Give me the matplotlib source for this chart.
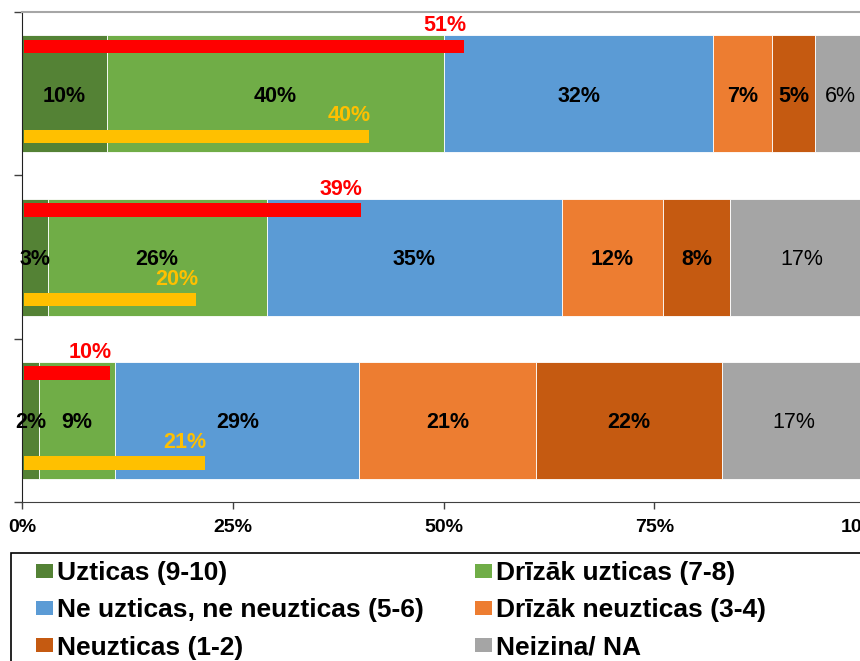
import matplotlib
matplotlib.use("Agg")
import matplotlib.pyplot as plt
from matplotlib.patches import Rectangle, Patch
import numpy as np

plt.rcParams['font.family'] = ['Liberation Sans', 'DejaVu Sans']

# data (three survey rows, top to bottom)
categories = ['Uzticas (9-10)', 'Drīzāk uzticas (7-8)', 'Ne uzticas, ne neuzticas (5-6)',
              'Drīzāk neuzticas (3-4)', 'Neuzticas (1-2)', 'Neizina/ NA']
uzticas = [10, 3, 2]
drizak_uzticas = [40, 26, 9]
neitrali = [32, 35, 29]
drizak_neuzticas = [7, 12, 21]
neuzticas = [5, 8, 22]
neizina = [6, 17, 17]
red_values = [51, 39, 10]
yellow_values = [40, 20, 21]
x_ticks = [0, 25, 50, 75, 100]
x_ticklabels = ['0%', '25%', '50%', '75%', '100%']

colors = ['#548235', '#70AD47', '#5B9BD5', '#ED7D31', '#C55A11', '#A5A5A5']
series = [uzticas, drizak_uzticas, neitrali, drizak_neuzticas, neuzticas, neizina]

fig = plt.figure(figsize=(8.6, 6.61), dpi=100)
ax = fig.add_axes([0.026, 0.2405, 0.980, 0.741])

y = np.arange(len(uzticas))
left = np.zeros(len(y))
for i, (vals, col) in enumerate(zip(series, colors)):
    ax.barh(y, vals, left=left, height=0.717, color=col, edgecolor='white', linewidth=0.6,
            label=categories[i])
    for yy, l, v in zip(y, left, vals):
        ax.text(l + v / 2, yy, f'{v}%', ha='center', va='center_baseline', fontsize=15.5,
                fontweight='normal' if i == 5 else 'bold', color='black')
    left = left + np.array(vals)

ax.set_xlim(0, 100)
ax.set_ylim(2.5, -0.5)
ax.set_xticks(x_ticks)
ax.set_xticklabels(x_ticklabels, fontsize=14, fontweight='bold')
ax.set_yticks([-0.5, 0.5, 1.5, 2.5])
ax.set_yticklabels([])
ax.tick_params(axis='x', length=5, width=1, color='#404040', pad=7)
ax.tick_params(axis='y', length=6, width=1, color='#404040')
ax.spines['left'].set_color('#202020')
ax.spines['bottom'].set_color('#404040')
ax.spines['top'].set_color('#A6A6A6')
ax.spines['top'].set_linewidth(1.5)
ax.spines['right'].set_visible(False)

# overlay bars (slightly different scale)
ax2 = ax.twiny()
ax2.set_xlim(-0.15, 97.4)
ax2.set_ylim(2.5, -0.5)
ax2.axis('off')
thin = 0.083
red_off, yel_off = -0.29, 0.26
ax2.barh(y + red_off, red_values, height=thin, color='#FF0000')
ax2.barh(y + yel_off, yellow_values, height=thin, color='#FFC000')
for yy, v in zip(y, red_values):
    ax2.text(v + 0.2, yy + red_off - thin / 2 - 0.02, f'{v}%', ha='right', va='bottom',
             fontsize=15.5, fontweight='bold', color='#FF0000')
for yy, v in zip(y, yellow_values):
    ax2.text(v + 0.2, yy + yel_off - thin / 2 - 0.02, f'{v}%', ha='right', va='bottom',
             fontsize=15.5, fontweight='bold', color='#FFC000')

# legend box (cut off at right and bottom like the source)
fig.patches.append(Rectangle((0.0128, -0.05), 1.1, 0.2134, transform=fig.transFigure,
                             fill=False, edgecolor='black', linewidth=1.2))
handles = [Patch(facecolor=c, label=l) for c, l in zip(colors, categories)]
order = [0, 2, 4, 1, 3, 5]
fig.legend([handles[k] for k in order], [categories[k] for k in order],
           loc='upper left', bbox_to_anchor=(0.042, 0.151), ncol=2, frameon=False,
           prop={'size': 19, 'weight': 'bold'}, handlelength=0.65, handleheight=0.45,
           handletextpad=0.15, columnspacing=1.93, labelspacing=0.5,
           borderpad=0, borderaxespad=0)

fig.savefig('out.png', dpi=100)
